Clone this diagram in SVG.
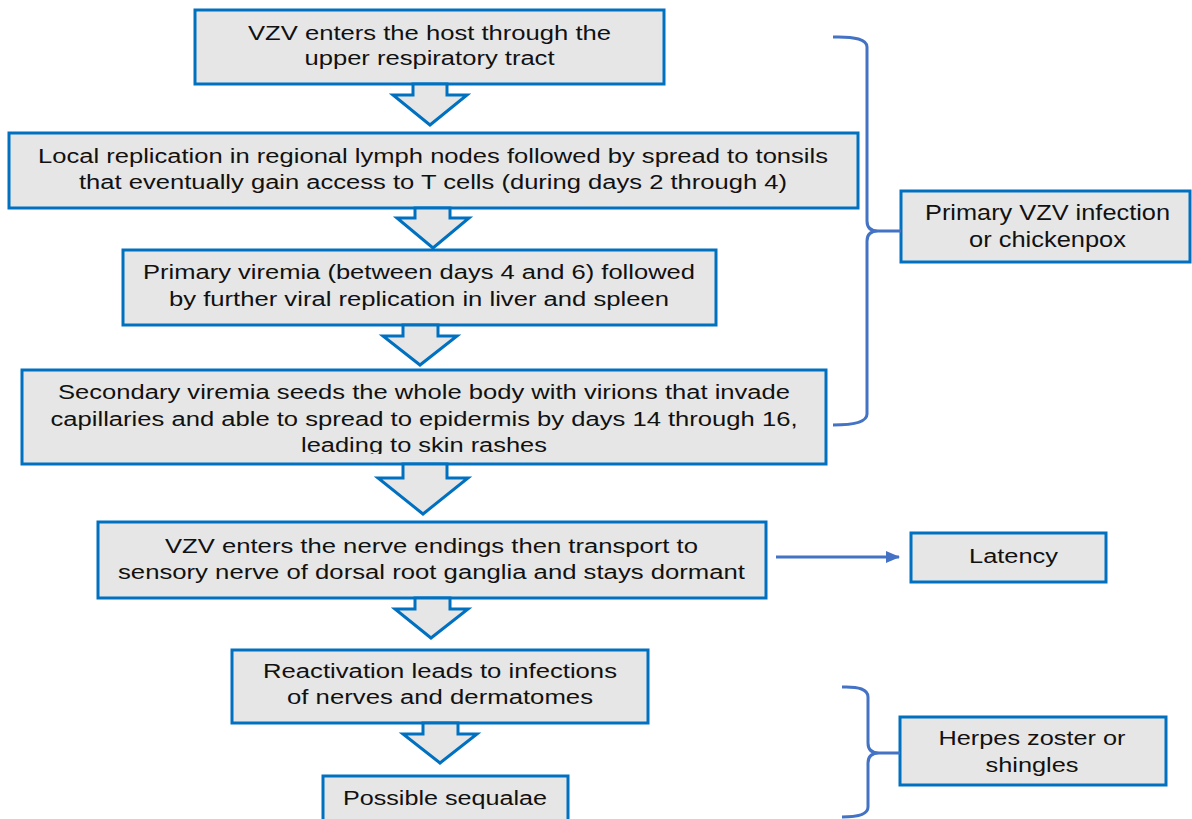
<svg xmlns="http://www.w3.org/2000/svg" width="1192" height="819" viewBox="0 0 1192 819">
<style>
.box{fill:#E6E6E6;stroke:#0070C0;stroke-width:3}
.blk{fill:#E6E6E6;stroke:#0070C0;stroke-width:3;stroke-linejoin:miter}
.t{font-family:"Liberation Sans",Arial,sans-serif;font-size:19.5px;fill:#111;text-anchor:middle}
.t22{font-size:22px}
.br{fill:none;stroke:#4472C4;stroke-width:3}
</style>
<defs>
<marker id="ah" markerWidth="14" markerHeight="12" refX="13" refY="6" orient="auto" markerUnits="userSpaceOnUse">
<path d="M0,0 L14,6 L0,12 Z" fill="#4472C4"/>
</marker>
<clipPath id="c4"><rect x="20" y="368" width="810" height="86"/></clipPath>
</defs>
<rect width="1192" height="819" fill="#fff"/>

<g id="n1">
<rect class="box" x="195" y="10" width="469" height="74"/>
<text class="t" x="429.5" y="40" textLength="363" lengthAdjust="spacingAndGlyphs">VZV enters the host through the</text>
<text class="t" x="429.5" y="65" textLength="250" lengthAdjust="spacingAndGlyphs">upper respiratory tract</text>
</g>
<g id="n2">
<rect class="box" x="9" y="133" width="849" height="75"/>
<text class="t" x="433" y="163" textLength="790" lengthAdjust="spacingAndGlyphs">Local replication in regional lymph nodes followed by spread to tonsils</text>
<text class="t" x="433" y="189" textLength="708" lengthAdjust="spacingAndGlyphs">that eventually gain access to T cells (during days 2 through 4)</text>
</g>
<g id="n3">
<rect class="box" x="123" y="250" width="593" height="75"/>
<text class="t" x="419" y="279" textLength="552" lengthAdjust="spacingAndGlyphs">Primary viremia (between days 4 and 6) followed</text>
<text class="t" x="419" y="306" textLength="500" lengthAdjust="spacingAndGlyphs">by further viral replication in liver and spleen</text>
</g>
<g id="n4">
<rect class="box" x="22" y="370" width="804" height="94"/>
<g clip-path="url(#c4)">
<text class="t" x="424" y="399" textLength="732" lengthAdjust="spacingAndGlyphs">Secondary viremia seeds the whole body with virions that invade</text>
<text class="t" x="424" y="426" textLength="747" lengthAdjust="spacingAndGlyphs">capillaries and able to spread to epidermis by days 14 through 16,</text>
<text class="t" x="424" y="452" textLength="246" lengthAdjust="spacingAndGlyphs">leading to skin rashes</text>
</g>
</g>
<g id="n5">
<rect class="box" x="98" y="522" width="668" height="76"/>
<text class="t" x="431.5" y="553" textLength="533" lengthAdjust="spacingAndGlyphs">VZV enters the nerve endings then transport to</text>
<text class="t" x="431.5" y="579" textLength="627" lengthAdjust="spacingAndGlyphs">sensory nerve of dorsal root ganglia and stays dormant</text>
</g>
<g id="latency">
<rect class="box" x="911" y="533" width="195" height="49"/>
<text class="t" x="1013.5" y="563" textLength="89" lengthAdjust="spacingAndGlyphs">Latency</text>
</g>
<g id="n6">
<rect class="box" x="232" y="650" width="416" height="73"/>
<text class="t" x="440" y="678" textLength="354" lengthAdjust="spacingAndGlyphs">Reactivation leads to infections</text>
<text class="t" x="440" y="704" textLength="306" lengthAdjust="spacingAndGlyphs">of nerves and dermatomes</text>
</g>
<g id="n7">
<rect class="box" x="323" y="776" width="245" height="60"/>
<text class="t" x="445" y="805" textLength="204" lengthAdjust="spacingAndGlyphs">Possible sequalae</text>
</g>
<g id="primary">
<rect class="box" x="901" y="191" width="289" height="71"/>
<text class="t t22" x="1047.5" y="220" textLength="245" lengthAdjust="spacingAndGlyphs">Primary VZV infection</text>
<text class="t t22" x="1047.5" y="247" textLength="157" lengthAdjust="spacingAndGlyphs">or chickenpox</text>
</g>
<g id="herpes">
<rect class="box" x="900" y="717" width="266" height="68"/>
<text class="t" x="1032" y="745" textLength="187" lengthAdjust="spacingAndGlyphs">Herpes zoster or</text>
<text class="t" x="1032" y="772" textLength="93" lengthAdjust="spacingAndGlyphs">shingles</text>
</g>

<g id="connectors">
<polygon class="blk" points="413,84 413,95 393,95 430,125 467,95 447,95 447,84"/>
<polygon class="blk" points="415,208 415,218 397,218 433,248 469,218 450,218 450,208"/>
<polygon class="blk" points="403,325 403,336 383,336 420,365 457,336 438,336 438,325"/>
<polygon class="blk" points="403,464 403,478 378,478 423,514 468,478 447,478 447,464"/>
<polygon class="blk" points="415,598 415,609 395,609 431,638 468,609 450,609 450,598"/>
<polygon class="blk" points="423,723 423,734 403,734 440,763 477,734 458,734 458,723"/>
<line x1="776" y1="557" x2="899" y2="557" stroke="#4472C4" stroke-width="3" marker-end="url(#ah)"/>
<path class="br" d="M833,37 Q867,36 867,47 V221 Q867,231 878,231 H901 M878,231 Q867,231 867,241 V414 Q867,425 833,425"/>
<path class="br" d="M842,687 Q868,686 868,697 V743 Q868,753 879,753 H900 M879,753 Q868,753 868,763 V807 Q868,817 842,817"/>
</g>
</svg>
